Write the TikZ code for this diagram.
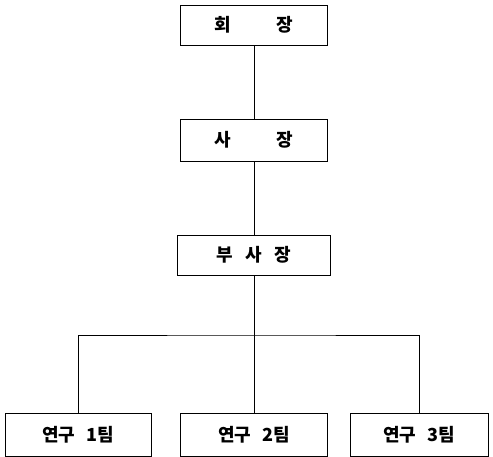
\documentclass[tikz,border=0pt]{standalone}
\usepackage{fontspec}
\newfontfamily\kor{Noto Sans CJK KR}
\usetikzlibrary{positioning}

\begin{document}
\begin{tikzpicture}[x=1pt, y=-1pt, node distance = 115pt, on grid,
  rank/.style={draw, line width=0.8pt, minimum width=147pt, minimum height=40pt,
    inner sep=0pt, font=\kor\bfseries\fontsize{18}{21}\selectfont}]
\useasboundingbox (0,0) rectangle (493,457);
\node[rank] (head) at (254,25) {회\hspace{2.5em}장};
\node[rank, below=of head, minimum height=42pt] (pres) {사\hspace{2.5em}장};
\node[rank, below=of pres, minimum width=153pt] (vice) {부\hspace{0.7em}사\hspace{0.7em}장};

\node[rank, below=180pt of vice, minimum height=43pt] (team2) {연구\hspace{0.6em}2팀};
\node[rank, left=176pt of team2, minimum height=43pt, minimum width=146pt] (team1) {연구\hspace{0.6em}1팀};
\node[rank, right=165pt of team2, minimum height=43pt, minimum width=138pt] (team3) {연구\hspace{0.6em}3팀};
\coordinate[below=80pt of vice] (fork);

\draw (head) -- (pres)
(pres) -- (vice)
(vice) -- (team2)
(team1) |- (fork) -| (team3);
\end{tikzpicture}
\end{document}
